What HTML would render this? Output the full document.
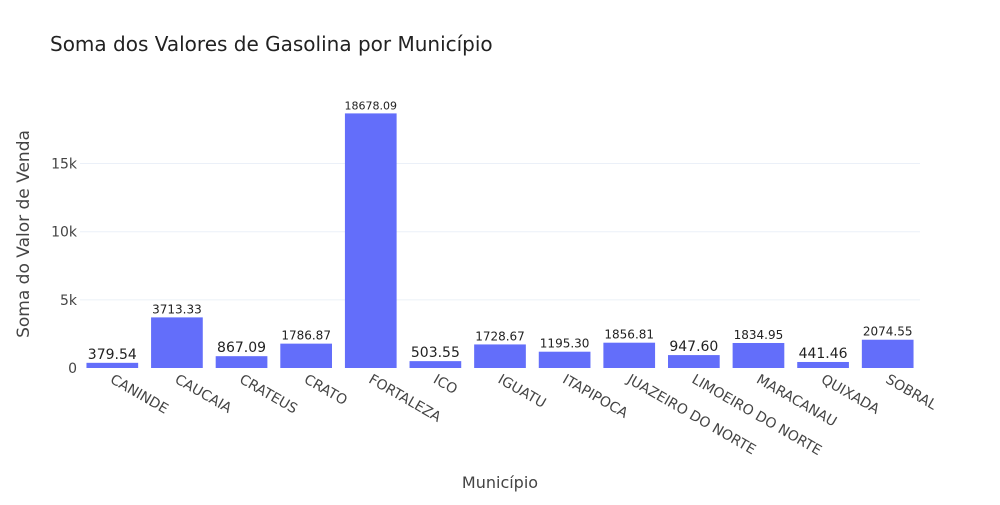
<!DOCTYPE html>
<html><head><meta charset="utf-8"><style>
body{margin:0;background:#fff;}
text{font-family:"DejaVu Sans","Liberation Sans",sans-serif;}
</style></head><body>
<svg id="chart" width="1000" height="500">
<text x="50" y="51" font-size="20" fill="#222">Soma dos Valores de Gasolina por Município</text>
<g id="grid"></g><g id="bars"></g><g id="labels"></g><g id="xticks"></g><g id="yticks"></g>
<text x="500" y="488" font-size="16" fill="#444" text-anchor="middle">Município</text>
<text transform="translate(29,234) rotate(-90)" font-size="17" fill="#444" text-anchor="middle">Soma do Valor de Venda</text>
</svg>
<script>
const categories=["CANINDE","CAUCAIA","CRATEUS","CRATO","FORTALEZA","ICO","IGUATU","ITAPIPOCA","JUAZEIRO DO NORTE","LIMOEIRO DO NORTE","MARACANAU","QUIXADA","SOBRAL"];
const values=[379.54,3713.33,867.09,1786.87,18678.09,503.55,1728.67,1195.30,1856.81,947.60,1834.95,441.46,2074.55];
const yTicks=[0,5000,10000,15000];
const yTickLabels=["0","5k","10k","15k"];
const NS="http://www.w3.org/2000/svg";
const x0=80,x1=920,yb=368,yt=100,ymax=19661;
const band=(x1-x0)/categories.length;
const xs=i=>x0+band*(i+0.5);
const ys=v=>yb-(v/ymax)*(yb-yt);
function mk(t,a,p){const e=document.createElementNS(NS,t);for(const k in a)e.setAttribute(k,a[k]);document.getElementById(p).appendChild(e);return e;}
yTicks.forEach((v,i)=>{
 if(v>0){const l=mk('line',{x1:x0,x2:x1,y1:ys(v),y2:ys(v),stroke:'#ebf0f8','stroke-width':1},'grid');
 
 }
 const t=mk('text',{x:x0-3,y:ys(v)+5,'font-size':14,fill:'#444','text-anchor':'end'},'yticks');t.textContent=yTickLabels[i];
 
 
});
values.forEach((v,i)=>{
 const w=band*0.8;
 const r=mk('rect',{x:xs(i)-w/2,y:ys(v),width:w,height:yb-ys(v),fill:'#636efa'},'bars');
 
 
 const s=v.toFixed(2);const fs=v>10000?11:(s.length>6?12:14);
 const t=mk('text',{x:xs(i),y:ys(v)-4,'font-size':fs,fill:'#222','text-anchor':'middle'},'labels');t.textContent=s;
 
 
 const c=mk('text',{transform:`translate(${xs(i)-3},${yb+14}) rotate(30)`,'font-size':14,fill:'#444'},'xticks');c.textContent=categories[i];
 
 
});
</script>
</body></html>
